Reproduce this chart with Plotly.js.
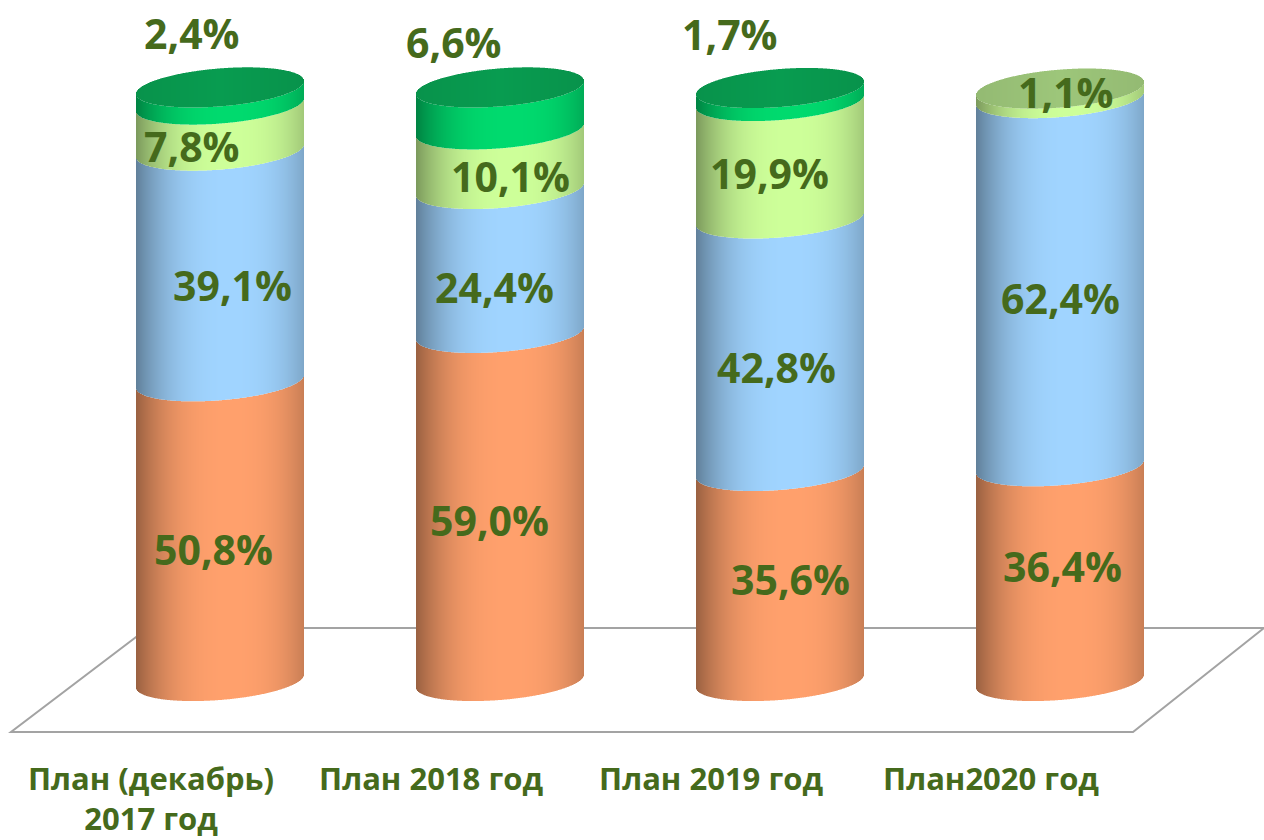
<!DOCTYPE html>
<html><head><meta charset="utf-8">
<script src="https://cdn.plot.ly/plotly-3.0.1.min.js"></script>
<style>html,body{margin:0;padding:0;background:#fff}#c{width:1264px;height:840px}</style></head>
<body><div id="c"></div>
<script>
// ---- data ----
const categories = ['План (декабрь)<br>2017 год', 'План 2018 год', 'План 2019 год', 'План2020 год'];
const orangeValues = [50.8, 59.0, 35.6, 36.4];
const blueValues = [39.1, 24.4, 42.8, 62.4];
const lightGreenValues = [7.8, 10.1, 19.9, 1.1];
const darkGreenValues = [2.4, 6.6, 1.7, 0];
// ---- styling ----
const sideColors = [[255,160,108],[160,212,255],[205,255,153],[0,218,110]];
const topDark = [8,156,80], topLight = [157,198,122];
const labelColor = '#456A1C';
const fontFamily = '"Open Sans", "Noto Sans", sans-serif';
// ---- geometry ----
const W = 1264, H = 840, plotH = 732;
const pxPerUnitX = 280, firstCenter = 220, halfW = 84;
const pxPerPct = 5.9, zeroPx = 681, ellH = 19, tilt = 6.5, capLiftPx = 3;
const xv = p => (p - firstCenter) / pxPerUnitX;
const yv = p => (zeroPx - p) / pxPerPct;
const capLift = capLiftPx / pxPerPct;
const frontOff = t => (ellH * Math.sqrt(Math.max(0, 1 - t * t)) - tilt * t) / pxPerPct;
const backOff = t => (-ellH * Math.sqrt(Math.max(0, 1 - t * t)) - tilt * t) / pxPerPct;
const shadeF = t => { const d = Math.abs(t - 0.12) / 1.12; return 1 - 0.40 * Math.pow(d, 2.6); };
const rgb = (c, f) => `rgb(${c.map(v => Math.round(v * f)).join(',')})`;

const series = [orangeValues, blueValues, lightGreenValues, darkGreenValues];
const traces = [];
const cum = categories.map(() => 0);
series.forEach((vals, s) => {
  const x = [], y = [], base = [], color = [], width = [];
  vals.forEach((v, c) => {
    // the uppermost visible segment reaches up to the raised lid
    const isTop = series.slice(s + 1).every(o => !(o[c] > 0));
    if (v > 0) for (let p = -halfW; p < halfW; p++) {
      const t = (p + 0.5) / halfW;
      x.push(c + (p + 0.5) / pxPerUnitX);
      y.push(v + (isTop ? capLift : 0));
      base.push(cum[c] - frontOff(t));
      color.push(rgb(sideColors[s], shadeF(t)));
      width.push(1 / pxPerUnitX);
    }
    cum[c] += v;
  });
  traces.push({type: 'bar', x, y, base, width, marker: {color, line: {width: 0}}, hoverinfo: 'skip', showlegend: false});
});
// top surfaces
(() => {
  const x = [], y = [], base = [], color = [], width = [];
  categories.forEach((_, c) => {
    const col = darkGreenValues[c] > 0 ? topDark : topLight;
    for (let p = -halfW; p < halfW; p++) {
      const t = (p + 0.5) / halfW;
      x.push(c + (p + 0.5) / pxPerUnitX);
      base.push(cum[c] + capLift - frontOff(t));
      y.push(frontOff(t) - backOff(t));
      color.push(rgb(col, 1 - 0.06 * Math.abs(t)));
      width.push(1 / pxPerUnitX);
    }
  });
  traces.push({type: 'bar', x, y, base, width, marker: {color, line: {width: 0}}, hoverinfo: 'skip', showlegend: false});
})();

// label centres, in pixels: [series][category]
const labelPx = [
  [[213,549],[489,520],[790,579],[1062,566]],
  [[232,285],[494,287],[776,367],[1060,298]],
  [[192,146],[510,176],[769,173],[1066,92]],
  [[192,33],[454,42],[730,34],null]
];
const annotations = [];
series.forEach((vals, s) => vals.forEach((v, c) => {
  const pos = labelPx[s][c];
  if (!pos) return;
  annotations.push({xref: 'x', yref: 'y', x: xv(pos[0]), y: yv(pos[1]), text: v.toFixed(1).replace('.', ',') + '%',
    showarrow: false, xanchor: 'center', yanchor: 'middle',
    font: {family: fontFamily, size: 41, color: labelColor, weight: 700}});
}));

const px = p => p / W, py = p => 1 - p / plotH;
const floorPath = `M${px(148)},${py(628)} L${px(1264)},${py(628)} L${px(1133)},${py(732)} L${px(11)},${py(732)} Z`;

const labelShift = -69 / pxPerUnitX;
Plotly.newPlot('c', traces, {
  width: W, height: H, margin: {l: 0, r: 0, t: 0, b: H - plotH, pad: 0},
  paper_bgcolor: '#fff', plot_bgcolor: 'rgba(0,0,0,0)', barmode: 'overlay', showlegend: false,
  xaxis: {type: 'linear', range: [xv(0), xv(W)], showgrid: false, zeroline: false, showline: false, ticks: '',
    tickmode: 'array', tickvals: categories.map((_, i) => i + labelShift), ticktext: categories.map(c => '<b>' + c.replace('<br>', '</b><br><b>') + '</b>'),
    tickangle: 0, ticklabelstandoff: 26, tickfont: {family: fontFamily, size: 31, color: labelColor}, fixedrange: true},
  yaxis: {range: [yv(plotH), yv(0)], visible: false, fixedrange: true},
  shapes: [{type: 'path', xref: 'paper', yref: 'paper', path: floorPath, line: {color: '#a3a3a3', width: 2}, fillcolor: 'rgba(255,255,255,0)', layer: 'below'}],
  annotations
}, {displayModeBar: false, staticPlot: true});
</script></body></html>
